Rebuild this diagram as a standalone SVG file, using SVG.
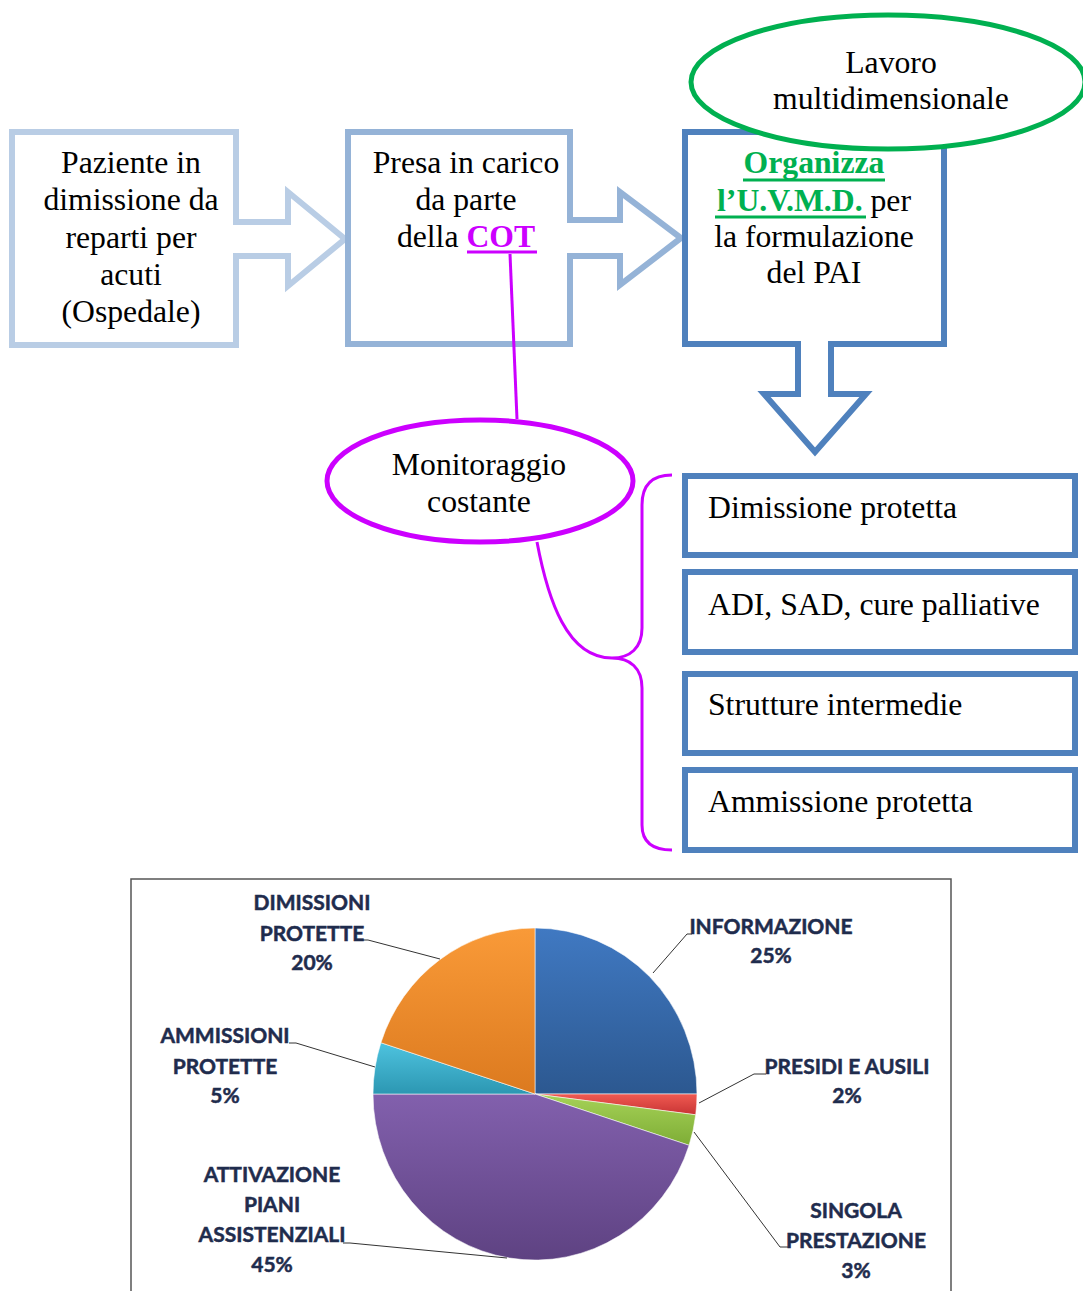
<svg xmlns="http://www.w3.org/2000/svg" width="1083" height="1291" viewBox="0 0 1083 1291">
<defs>
<style>
.t{font-family:"Liberation Serif","Times New Roman",serif;font-size:31.7px;fill:#000}
.b{font-weight:bold}
.lbl{font-family:Lato,"Open Sans",sans-serif;font-weight:bold;font-size:21px;fill:#1f2c4d;stroke:#1f2c4d;stroke-width:0.5;text-anchor:middle}
.box{fill:#fff;stroke-width:6}
.mag{fill:none;stroke:#cc00ff;stroke-width:3}
.lead{fill:none;stroke:#333;stroke-width:1}
.slice{stroke:rgba(255,255,255,0.55);stroke-width:1}
</style>
<linearGradient id="gBlue" x1="0" y1="0" x2="0" y2="1"><stop offset="0" stop-color="#4079c2"/><stop offset="1" stop-color="#2c5890"/></linearGradient>
<linearGradient id="gRed" x1="0" y1="0" x2="0" y2="1"><stop offset="0" stop-color="#f05a52"/><stop offset="1" stop-color="#c83434"/></linearGradient>
<linearGradient id="gGreen" x1="0" y1="0" x2="0" y2="1"><stop offset="0" stop-color="#a6d257"/><stop offset="1" stop-color="#7ead36"/></linearGradient>
<linearGradient id="gPurple" x1="0" y1="0" x2="0" y2="1"><stop offset="0" stop-color="#8260ad"/><stop offset="1" stop-color="#5e4282"/></linearGradient>
<linearGradient id="gCyan" x1="0" y1="0" x2="0" y2="1"><stop offset="0" stop-color="#4ec3df"/><stop offset="1" stop-color="#2c97b2"/></linearGradient>
<linearGradient id="gOrange" x1="0" y1="0" x2="0" y2="1"><stop offset="0" stop-color="#f99a38"/><stop offset="1" stop-color="#dc7a1f"/></linearGradient>
</defs>
<rect width="1083" height="1291" fill="#fff"/>

<g id="node-paziente">
<path class="box" stroke="#b9cde5" d="M12,132 H236 V222 H288 V192 L345,239 L288,286 V256 H236 V345 H12 Z"/>
<text class="t" text-anchor="middle"><tspan x="131" y="173">Paziente in</tspan><tspan x="131" y="210">dimissione da</tspan><tspan x="131" y="248">reparti per</tspan><tspan x="131" y="285">acuti</tspan><tspan x="131" y="322">(Ospedale)</tspan></text>
</g>

<g id="node-cot">
<path class="box" stroke="#95b3d7" d="M348,132 H570 V220 H620 V192 L681,238 L620,285 V256 H570 V344 H348 Z"/>
<text class="t" text-anchor="middle"><tspan x="466" y="173">Presa in carico</tspan><tspan x="466" y="210">da parte</tspan><tspan x="466" y="247">della <tspan class="b" fill="#cc00ff">COT</tspan></tspan></text>
<line x1="467" y1="252" x2="537" y2="252" stroke="#cc00ff" stroke-width="3"/>
</g>

<g id="node-uvmd">
<path class="box" stroke="#4f81bd" d="M685,132 H944 V344 H831 V394 H866 L815,452 L764,394 H798 V344 H685 Z"/>
</g>

<g id="node-lavoro">
<ellipse cx="888" cy="82" rx="197" ry="67" fill="#fff" stroke="#00b050" stroke-width="5"/>
<text class="t" text-anchor="middle"><tspan x="891" y="73">Lavoro</tspan><tspan x="891" y="109">multidimensionale</tspan></text>
</g>

<g id="node-uvmd-text">
<text class="t" text-anchor="middle"><tspan x="814" y="173" class="b" fill="#00b050">Organizza</tspan><tspan x="814" y="211"><tspan class="b" fill="#00b050">l’U.V.M.D.</tspan> per</tspan><tspan x="814" y="247">la formulazione</tspan><tspan x="814" y="283">del PAI</tspan></text>
<line x1="743" y1="180" x2="885" y2="180" stroke="#00b050" stroke-width="3"/>
<line x1="715" y1="217" x2="866" y2="217" stroke="#00b050" stroke-width="3"/>
</g>

<g id="node-dimissione">
<rect class="box" stroke="#4f81bd" x="685" y="476" width="390" height="79"/>
<text class="t" x="708" y="518">Dimissione protetta</text>
</g>
<g id="node-adi">
<rect class="box" stroke="#4f81bd" x="685" y="572" width="390" height="80"/>
<text class="t" x="708" y="615">ADI, SAD, cure palliative</text>
</g>
<g id="node-strutture">
<rect class="box" stroke="#4f81bd" x="685" y="674" width="390" height="79"/>
<text class="t" x="708" y="715">Strutture intermedie</text>
</g>
<g id="node-ammissione">
<rect class="box" stroke="#4f81bd" x="685" y="770" width="390" height="80"/>
<text class="t" x="708" y="812">Ammissione protetta</text>
</g>

<g id="connectors">
<path class="mag" d="M510,254 L517,419"/>
<path class="mag" d="M537,542 C548,600 567,658 612,658"/>
<path class="mag" d="M672,475 C652,475 642,485 642,505 V628 C642,648 630,658 612,658 C630,658 642,668 642,688 V825 C642,842 652,850 672,850"/>
</g>

<g id="node-monitoraggio">
<ellipse cx="480" cy="481" rx="153" ry="61" fill="#fff" stroke="#cc00ff" stroke-width="5"/>
<text class="t" text-anchor="middle"><tspan x="479" y="475">Monitoraggio</tspan><tspan x="479" y="512">costante</tspan></text>
</g>

<g id="chart">
<rect x="131" y="879" width="820" height="430" fill="#fff" stroke="#555" stroke-width="1.5"/>
<path class="slice" fill="url(#gBlue)" d="M535,1094 L535,928 A162,166 0 0 1 697,1094 Z"/>
<path class="slice" fill="url(#gRed)" d="M535,1094 L697,1094 A162,166 0 0 1 695.7,1114.8 Z"/>
<path class="slice" fill="url(#gGreen)" d="M535,1094 L695.7,1114.8 A162,166 0 0 1 689.1,1145.3 Z"/>
<path class="slice" fill="url(#gPurple)" d="M535,1094 L689.1,1145.3 A162,166 0 0 1 373,1094 Z"/>
<path class="slice" fill="url(#gCyan)" d="M535,1094 L373,1094 A162,166 0 0 1 380.9,1042.7 Z"/>
<path class="slice" fill="url(#gOrange)" d="M535,1094 L380.9,1042.7 A162,166 0 0 1 535,928 Z"/>

<path class="lead" d="M362,940 L368,940 L440,959"/>
<path class="lead" d="M289,1043 L296,1043 L375,1067"/>
<path class="lead" d="M343,1243 L350,1243 L507,1258"/>
<path class="lead" d="M692,934 L687,934 L653,973"/>
<path class="lead" d="M766,1074 L754,1074 L699,1103"/>
<path class="lead" d="M788,1247 L780,1247 L694,1132"/>

<text class="lbl"><tspan x="312" y="910">DIMISSIONI</tspan><tspan x="312" y="941">PROTETTE</tspan><tspan x="312" y="970">20%</tspan></text>
<text class="lbl"><tspan x="225" y="1043">AMMISSIONI</tspan><tspan x="225" y="1074">PROTETTE</tspan><tspan x="225" y="1103">5%</tspan></text>
<text class="lbl"><tspan x="272" y="1182">ATTIVAZIONE</tspan><tspan x="272" y="1212">PIANI</tspan><tspan x="272" y="1242">ASSISTENZIALI</tspan><tspan x="272" y="1272">45%</tspan></text>
<text class="lbl"><tspan x="771" y="934">INFORMAZIONE</tspan><tspan x="771" y="963">25%</tspan></text>
<text class="lbl"><tspan x="847" y="1074">PRESIDI E AUSILI</tspan><tspan x="847" y="1103">2%</tspan></text>
<text class="lbl"><tspan x="856" y="1218">SINGOLA</tspan><tspan x="856" y="1248">PRESTAZIONE</tspan><tspan x="856" y="1278">3%</tspan></text>
</g>
</svg>
